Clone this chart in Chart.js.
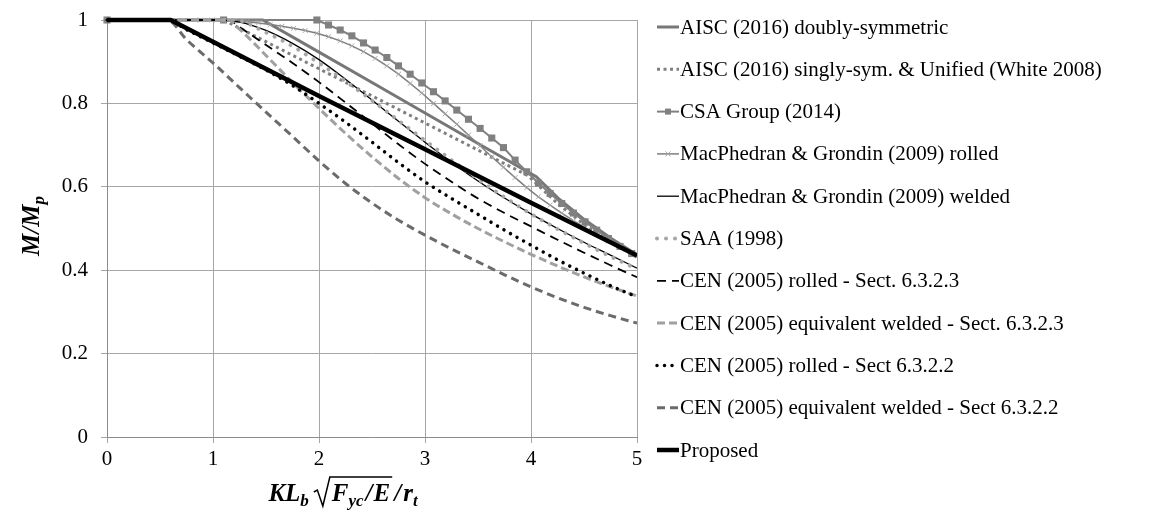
<!DOCTYPE html>
<html>
<head>
<meta charset="utf-8">
<script src="https://cdn.jsdelivr.net/npm/chart.js@4.4.1/dist/chart.umd.min.js"></script>
<style>
  html, body { margin: 0; padding: 0; background: #fff; }
</style>
</head>
<body>
<canvas id="chart" width="1166" height="525"></canvas>
<script>
// Normalised slenderness KLb*sqrt(Fyc/E)/rt on x, M/Mp on y

const aiscDoublyX = [0, 1.47, 2, 2.5, 3, 3.5, 4.05, 4.25, 4.5, 4.75, 5];
const aiscDoublyY = [1, 1, 0.923, 0.85, 0.777, 0.704, 0.624, 0.574, 0.522, 0.477, 0.437];

const aiscSinglyX = [0, 1.1, 1.5, 2, 2.5, 3, 3.5, 3.97, 4.25, 4.5, 4.75, 5];
const aiscSinglyY = [1, 1, 0.948, 0.883, 0.818, 0.753, 0.688, 0.627, 0.56, 0.51, 0.467, 0.431];

const csaX = [0, 1.10, 1.98, 2.09, 2.20, 2.31, 2.42, 2.53, 2.64, 2.75, 2.86, 2.97, 3.08, 3.19, 3.30,
  3.41, 3.52, 3.63, 3.74, 3.85, 3.96, 4.07, 4.18, 4.29, 4.40, 4.51, 4.62, 4.73, 4.84, 4.95, 5.06];
const csaY = [1, 1, 1, 0.988, 0.976, 0.962, 0.945, 0.928, 0.91, 0.89, 0.87, 0.849, 0.828, 0.806, 0.784,
  0.762, 0.74, 0.717, 0.694, 0.664, 0.636, 0.609, 0.584, 0.56, 0.537, 0.516, 0.496, 0.476, 0.457, 0.44, 0.424];

const mgRolledX = [0, 0.88, 0.99, 1.10, 1.21, 1.32, 1.43, 1.54, 1.65, 1.76, 1.87, 1.98, 2.09, 2.20,
  2.31, 2.42, 2.53, 2.64, 2.75, 2.86, 2.97, 3.08, 3.19, 3.30, 3.41, 3.52, 3.63, 3.74, 3.85, 3.96,
  4.07, 4.18, 4.29, 4.40, 4.51, 4.62, 4.73, 4.84, 4.95, 5.06];
const mgRolledY = [1, 1, 1, 0.999, 0.998, 0.996, 0.993, 0.989, 0.985, 0.98, 0.975, 0.968, 0.96, 0.95,
  0.938, 0.924, 0.908, 0.89, 0.87, 0.848, 0.825, 0.8, 0.775, 0.75, 0.724, 0.698, 0.672, 0.647, 0.622, 0.598,
  0.576, 0.556, 0.537, 0.519, 0.502, 0.486, 0.47, 0.455, 0.441, 0.428];

const mgWeldedX = [0, 1, 1.25, 1.5, 1.75, 2, 2.25, 2.5, 2.75, 3, 3.25, 3.5, 3.75, 4, 4.25, 4.5, 4.75, 5];
const mgWeldedY = [1, 1, 0.995, 0.975, 0.944, 0.905, 0.858, 0.808, 0.757, 0.707, 0.659, 0.614, 0.573, 0.535, 0.5, 0.467, 0.436, 0.405];

const saaX = [0, 1.2, 1.5, 1.75, 2, 2.25, 2.5, 2.75, 3, 3.25, 3.5, 3.75, 4, 4.25, 4.5, 4.75, 5];
const saaY = [1, 1, 0.97, 0.937, 0.897, 0.853, 0.807, 0.759, 0.711, 0.664, 0.618, 0.575, 0.535, 0.499, 0.465, 0.433, 0.403];

// Sect. 6.3.2.3 curves (plateau to 1.14)
const cen623X = [0, 1.14, 1.25, 1.5, 1.75, 2, 2.25, 2.5, 2.75, 3, 3.25, 3.5, 3.75, 4, 4.25, 4.5, 4.75, 5];
const cenRolled623Y = [1, 1, 0.983, 0.94, 0.897, 0.851, 0.802, 0.752, 0.702, 0.655, 0.612, 0.572, 0.537, 0.505, 0.473, 0.442, 0.412, 0.383];
const cenWelded623Y = [1, 1, 0.978, 0.915, 0.85, 0.788, 0.728, 0.672, 0.62, 0.574, 0.535, 0.5, 0.468, 0.438, 0.41, 0.384, 0.36, 0.338];

// Sect 6.3.2.2 curves (plateau to 0.57)
const cen622X = [0, 0.57, 0.75, 1, 1.25, 1.5, 1.75, 2, 2.25, 2.5, 2.75, 3, 3.25, 3.5, 3.75, 4, 4.25, 4.5, 4.75, 5];
const cenRolled622Y = [1, 1, 0.977, 0.945, 0.913, 0.88, 0.843, 0.8, 0.755, 0.707, 0.658, 0.612, 0.572, 0.534, 0.496, 0.46, 0.425, 0.393, 0.363, 0.336];
const cenWelded622Y = [1, 1, 0.953, 0.897, 0.838, 0.779, 0.721, 0.662, 0.608, 0.561, 0.52, 0.484, 0.451, 0.42, 0.389, 0.36, 0.334, 0.311, 0.291, 0.273];

const proposedX = [0, 0.6, 1, 2, 3, 4, 5];
const proposedY = [1, 1, 0.948, 0.818, 0.69, 0.562, 0.435];

const xTicks = [0, 1, 2, 3, 4, 5];
const yTicks = [0, 0.2, 0.4, 0.6, 0.8, 1];

const FONT = "'Liberation Serif', 'Times New Roman', serif";

function points(xs, ys) {
  return xs.map((x, i) => ({ x: x, y: ys[i] }));
}

const n = 11;
let idx = 0;
function series(label, xs, ys, style) {
  const ds = Object.assign({
    label: label,
    data: points(xs, ys),
    pointRadius: 0,
    fill: false,
    tension: 0,
    borderCapStyle: 'butt',
    clip: { left: 6, top: 6, right: 0, bottom: 6 },
    order: n - idx
  }, style);
  idx++;
  return ds;
}

const datasets = [
  series('AISC (2016) doubly-symmetric', aiscDoublyX, aiscDoublyY,
    { borderColor: '#777777', borderWidth: 3 }),
  series('AISC (2016) singly-sym. & Unified (White 2008)', aiscSinglyX, aiscSinglyY,
    { borderColor: '#7f7f7f', borderWidth: 3, borderDash: [3, 3.5] }),
  series('CSA Group (2014)', csaX, csaY,
    { borderColor: '#808080', borderWidth: 2, pointRadius: 5, pointStyle: 'rect',
      pointBackgroundColor: '#808080', pointBorderColor: '#808080', pointBorderWidth: 0 }),
  series('MacPhedran & Grondin (2009) rolled', mgRolledX, mgRolledY,
    { borderColor: '#7f7f7f', borderWidth: 1.5, pointRadius: 3.5, pointStyle: 'crossRot',
      pointBorderColor: '#a6a6a6', pointBorderWidth: 1 }),
  series('MacPhedran & Grondin (2009) welded', mgWeldedX, mgWeldedY,
    { borderColor: '#000000', borderWidth: 1.3, cubicInterpolationMode: 'monotone' }),
  series('SAA (1998)', saaX, saaY,
    { borderColor: '#a6a6a6', borderWidth: 4, borderDash: [0.01, 9], borderCapStyle: 'round',
      cubicInterpolationMode: 'monotone' }),
  series('CEN (2005) rolled - Sect. 6.3.2.3', cen623X, cenRolled623Y,
    { borderColor: '#000000', borderWidth: 1.8, borderDash: [9, 6], cubicInterpolationMode: 'monotone' }),
  series('CEN (2005) equivalent welded - Sect. 6.3.2.3', cen623X, cenWelded623Y,
    { borderColor: '#a0a0a0', borderWidth: 3, borderDash: [8, 4], cubicInterpolationMode: 'monotone' }),
  series('CEN (2005) rolled - Sect 6.3.2.2', cen622X, cenRolled622Y,
    { borderColor: '#000000', borderWidth: 3.5, borderDash: [0.01, 7.5], borderCapStyle: 'round',
      cubicInterpolationMode: 'monotone' }),
  series('CEN (2005) equivalent welded - Sect 6.3.2.2', cen622X, cenWelded622Y,
    { borderColor: '#6b6b6b', borderWidth: 3, borderDash: [8, 5], cubicInterpolationMode: 'monotone' }),
  series('Proposed', proposedX, proposedY,
    { borderColor: '#000000', borderWidth: 4.5 })
];

// legend column on the right of the plot
const legendTop = 27;
const legendStep = 42.3;
const sampleLeft = 657;
const sampleRight = 679;
const textLeft = 680;

function drawMarker(ctx, style, x, y, r) {
  ctx.save();
  ctx.setLineDash([]);
  if (style === 'rect') {
    ctx.fillStyle = '#808080';
    ctx.fillRect(x - r, y - r, 2 * r, 2 * r);
  } else if (style === 'crossRot') {
    ctx.strokeStyle = '#a6a6a6';
    ctx.lineWidth = 1;
    ctx.beginPath();
    ctx.moveTo(x - r, y - r); ctx.lineTo(x + r, y + r);
    ctx.moveTo(x - r, y + r); ctx.lineTo(x + r, y - r);
    ctx.stroke();
  }
  ctx.restore();
}

const sideLegend = {
  id: 'sideLegend',
  afterDraw(chart) {
    const ctx = chart.ctx;
    ctx.save();
    chart.data.datasets.forEach((ds, i) => {
      const y = legendTop + i * legendStep;
      ctx.beginPath();
      ctx.setLineDash(ds.borderDash || []);
      ctx.lineCap = ds.borderCapStyle || 'butt';
      ctx.lineWidth = ds.borderWidth;
      ctx.strokeStyle = ds.borderColor;
      ctx.moveTo(sampleLeft, y);
      ctx.lineTo(sampleRight, y);
      ctx.stroke();
      if (ds.pointStyle === 'rect') drawMarker(ctx, 'rect', (sampleLeft + sampleRight) / 2, y, 3);
      if (ds.pointStyle === 'crossRot') drawMarker(ctx, 'crossRot', (sampleLeft + sampleRight) / 2, y, 2.5);
      ctx.setLineDash([]);
      ctx.fillStyle = '#000';
      ctx.font = '21px ' + FONT;
      ctx.textBaseline = 'middle';
      ctx.textAlign = 'left';
      ctx.fillText(ds.label, textLeft, y + 1);
    });
    ctx.restore();
  }
};

// axis titles with subscripts and the radical sign
const axisTitles = {
  id: 'axisTitles',
  afterDraw(chart) {
    const ctx = chart.ctx;
    const main = 'bold italic 25px ' + FONT;
    const sub = 'bold italic 17px ' + FONT;
    ctx.save();
    ctx.fillStyle = '#000';
    ctx.strokeStyle = '#000';
    ctx.textBaseline = 'alphabetic';
    ctx.textAlign = 'left';

    // y title: M/Mp
    ctx.translate(39, 226);
    ctx.rotate(-Math.PI / 2);
    ctx.font = main;
    const w1 = ctx.measureText('M/M').width;
    ctx.font = sub;
    const w2 = ctx.measureText('p').width;
    const x0 = -(w1 + w2) / 2;
    ctx.font = main;
    ctx.fillText('M/M', x0, 0);
    ctx.font = sub;
    ctx.fillText('p', x0 + w1, 5);
    ctx.setTransform(1, 0, 0, 1, 0, 0);

    // x title: KLb sqrt(Fyc/E) / rt
    const parts = [
      { t: 'KL', f: main, dy: 0 },
      { t: 'b', f: sub, dy: 5 },
      { gap: 4 },
      { rad: 'open', w: 19 },
      { t: 'F', f: main, dy: 0 },
      { t: 'yc', f: sub, dy: 5 },
      { gap: 2 },
      { t: '/', f: main, dy: 0 },
      { gap: 1 },
      { t: 'E', f: main, dy: 0 },
      { rad: 'close', w: 4 },
      { t: '/', f: main, dy: 0 },
      { gap: 2 },
      { t: 'r', f: main, dy: 0 },
      { t: 't', f: sub, dy: 5 }
    ];
    let total = 0;
    parts.forEach(p => {
      if (p.gap) { p.width = p.gap; }
      else if (p.rad) { p.width = p.w; }
      else { ctx.font = p.f; p.width = ctx.measureText(p.t).width; }
      total += p.width;
    });
    const by = 501;
    let x = 343 - total / 2;
    let radStart = 0;
    parts.forEach(p => {
      if (p.rad === 'open') {
        radStart = x + 1;
      } else if (p.rad === 'close') {
        ctx.beginPath();
        ctx.lineWidth = 1.5;
        ctx.moveTo(radStart, by - 9);
        ctx.lineTo(radStart + 3.5, by - 11);
        ctx.lineTo(radStart + 9, by + 5);
        ctx.lineTo(radStart + 16, by - 24);
        ctx.lineTo(x + 2, by - 24);
        ctx.stroke();
      } else if (p.t) {
        ctx.font = p.f;
        ctx.fillText(p.t, x, by + p.dy);
      }
      x += p.width;
    });
    ctx.restore();
  }
};

Chart.defaults.font.family = FONT;

new Chart(document.getElementById('chart'), {
  type: 'line',
  data: { datasets: datasets },
  options: {
    responsive: false,
    animation: false,
    events: [],
    layout: { padding: { left: 0, right: 529, top: 20, bottom: 0 } },
    plugins: { legend: { display: false }, tooltip: { enabled: false } },
    scales: {
      x: {
        type: 'linear',
        min: 0,
        max: 5,
        afterBuildTicks: s => { s.ticks = xTicks.map(v => ({ value: v })); },
        afterFit: s => { s.height = 88; s.paddingLeft = 0; s.paddingRight = 0; },
        ticks: { color: '#000', font: { size: 21 }, padding: 4, maxRotation: 0 },
        grid: { color: '#a6a6a6', lineWidth: 1, tickLength: 6 },
        border: { color: '#8c8c8c', width: 1 }
      },
      y: {
        type: 'linear',
        min: 0,
        max: 1,
        afterBuildTicks: s => { s.ticks = yTicks.map(v => ({ value: v })); },
        afterFit: s => { s.width = 107; s.paddingTop = 0; s.paddingBottom = 0; },
        ticks: {
          color: '#000',
          font: { size: 21 },
          padding: 13,
          callback: v => String(Math.round(v * 10) / 10)
        },
        grid: { color: '#a6a6a6', lineWidth: 1, tickLength: 6 },
        border: { color: '#8c8c8c', width: 1 }
      }
    }
  },
  plugins: [sideLegend, axisTitles]
});
</script>
</body>
</html>
